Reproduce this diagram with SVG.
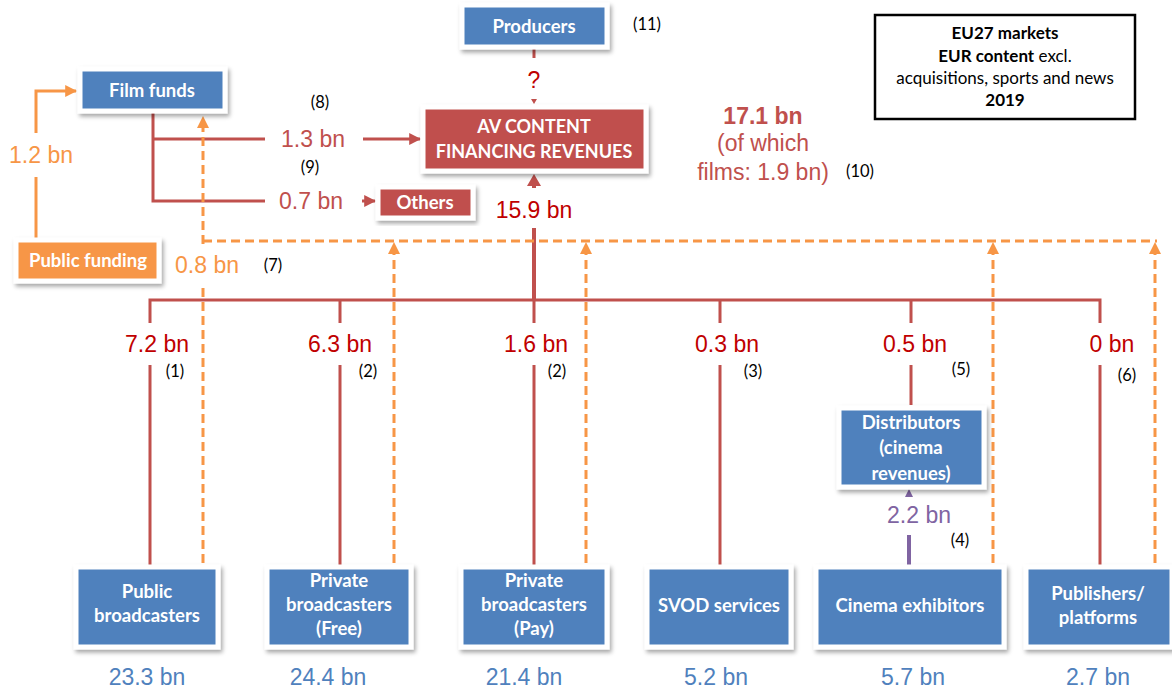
<svg xmlns="http://www.w3.org/2000/svg" width="1172" height="689" viewBox="0 0 1172 689">
<defs>
<filter id="sh" x="-10%" y="-10%" width="125%" height="135%">
<feDropShadow dx="2" dy="3" stdDeviation="2" flood-color="#000" flood-opacity="0.35"/>
</filter>
<marker id="ar" viewBox="0 0 10 10" refX="9" refY="5" markerWidth="4" markerHeight="4" orient="auto" markerUnits="strokeWidth">
<path d="M0,0 L10,5 L0,10 z" fill="#C0504D"/>
</marker>
<marker id="ao" viewBox="0 0 10 10" refX="9" refY="5" markerWidth="4" markerHeight="4" orient="auto" markerUnits="strokeWidth">
<path d="M0,0 L10,5 L0,10 z" fill="#F79646"/>
</marker>
</defs>
<style>
.blue{fill:#4F81BD;stroke:#fff;stroke-width:5;filter:url(#sh)}
.red{fill:#C0504D;stroke:#fff;stroke-width:5;filter:url(#sh)}
.orng{fill:#F79646;stroke:#fff;stroke-width:5;filter:url(#sh)}
.bt{font-family:Lato,"Open Sans",sans-serif;font-weight:bold;font-size:18.5px;fill:#fff;text-anchor:middle}
.bt2{font-size:18px}
.v{font-family:"Liberation Sans",Arial,sans-serif;font-size:23px;text-anchor:middle}
.dr{fill:#C00000}
.lr{fill:#C0504D}
.bl{fill:#4F81BD}
.or{fill:#F79646}
.pu{fill:#8064A2}
.n{font-family:Lato,"Open Sans",sans-serif;font-size:16.5px;fill:#000;text-anchor:middle}
.rl{fill:none;stroke:#C0504D;stroke-width:3}
.ol{fill:none;stroke:#F79646;stroke-width:3}
.od{fill:none;stroke:#F79646;stroke-width:3;stroke-dasharray:9 5}
.eu{font-family:Lato,"Open Sans",sans-serif;font-size:17px;fill:#000;text-anchor:middle}
</style>
<rect width="1172" height="689" fill="#fff"/>

<g id="connectors">
<path class="ol" d="M36,239 V177"/>
<path class="ol" d="M36,133 V91 H76" marker-end="url(#ao)"/>
<path class="rl" d="M153,111 V201 H265"/>
<path class="rl" d="M153,139 H265"/>
<path class="rl" d="M363,139 H420" marker-end="url(#ar)"/>
<path class="rl" d="M362,201 H375" marker-end="url(#ar)"/>
<path class="rl" d="M534,49 V58"/>
<path fill="#C0504D" d="M531,99 L537,99 L534,104 z"/>
<path fill="none" stroke="#C0504D" stroke-width="4" d="M534,300 V228"/>
<path fill="none" stroke="#C0504D" stroke-width="4" d="M534,188 V184"/>
<path fill="#C0504D" d="M527,186 L541,186 L534,174 z"/>
<path class="rl" d="M150,323 V300 H1100 V323"/>
<path class="rl" d="M340,300 V323 M534,300 V323 M720,300 V323 M911,300 V323"/>
<path class="rl" d="M150,365 V565 M340,365 V565 M534,365 V565 M720,365 V565 M911,365 V405 M1100,365 V565"/>
<path fill="none" stroke="#8064A2" stroke-width="4" d="M909,565 V535"/>
<path fill="#8064A2" d="M905,497 L913,497 L909,489 z"/>
<path class="od" d="M203,563 V287"/>
<path class="od" d="M203,244 V126"/>
<path fill="#F79646" d="M197,128 L209,128 L203,116 z"/>
<path class="od" d="M203,241 H1157"/>
<path class="od" d="M394,563 V252"/>
<path fill="#F79646" d="M388,254 L400,254 L394,242 z"/>
<path class="od" d="M586,563 V252"/>
<path fill="#F79646" d="M580,254 L592,254 L586,242 z"/>
<path class="od" d="M993,563 V252"/>
<path fill="#F79646" d="M987,254 L999,254 L993,242 z"/>
<path class="od" d="M1155,563 V252"/>
<path fill="#F79646" d="M1149,254 L1161,254 L1155,242 z"/>
</g>

<g id="producers">
<rect class="blue" x="462" y="5" width="145" height="42"/>
<text class="bt" x="534" y="33">Producers</text>
</g>
<g id="film-funds">
<rect class="blue" x="80" y="69" width="145" height="42"/>
<text class="bt" x="152" y="97">Film funds</text>
</g>
<g id="av-content">
<rect class="red" x="423" y="107" width="223" height="64"/>
<text class="bt bt2" x="534" y="133">AV CONTENT</text>
<text class="bt bt2" x="534" y="158">FINANCING REVENUES</text>
</g>
<g id="others">
<rect class="red" x="378" y="187" width="95" height="31"/>
<text class="bt" x="425" y="209">Others</text>
</g>
<g id="public-funding">
<rect class="orng" x="16" y="240" width="143" height="41"/>
<text class="bt" x="88" y="267">Public funding</text>
</g>
<g id="distributors">
<rect class="blue" x="839" y="408" width="145" height="79"/>
<text class="bt" x="911" y="429">Distributors</text>
<text class="bt" x="911" y="454">(cinema</text>
<text class="bt" x="911" y="480">revenues)</text>
</g>
<g id="public-broadcasters">
<rect class="blue" x="76" y="567" width="142" height="80"/>
<text class="bt" x="147" y="598">Public</text>
<text class="bt" x="147" y="622">broadcasters</text>
</g>
<g id="private-free">
<rect class="blue" x="267" y="567" width="144" height="80"/>
<text class="bt" x="339" y="587">Private</text>
<text class="bt" x="339" y="611">broadcasters</text>
<text class="bt" x="339" y="635">(Free)</text>
</g>
<g id="private-pay">
<rect class="blue" x="461" y="567" width="146" height="80"/>
<text class="bt" x="534" y="587">Private</text>
<text class="bt" x="534" y="611">broadcasters</text>
<text class="bt" x="534" y="635">(Pay)</text>
</g>
<g id="svod">
<rect class="blue" x="647" y="567" width="144" height="80"/>
<text class="bt" x="719" y="612">SVOD services</text>
</g>
<g id="cinema-exhibitors">
<rect class="blue" x="816" y="567" width="188" height="80"/>
<text class="bt" x="910" y="612">Cinema exhibitors</text>
</g>
<g id="publishers">
<rect class="blue" x="1026" y="567" width="146" height="80"/>
<text class="bt" x="1098" y="600">Publishers/</text>
<text class="bt" x="1098" y="624">platforms</text>
</g>
<g id="legend">
<rect x="875" y="15" width="260" height="104" fill="#fff" stroke="#000" stroke-width="2.5"/>
<text class="eu" x="1005" y="39" font-weight="bold">EU27 markets</text>
<text class="eu" x="1005" y="62"><tspan font-weight="bold">EUR content</tspan> excl.</text>
<text class="eu" x="1005" y="84">acquisitions, sports and news</text>
<text class="eu" x="1005" y="106" font-weight="bold">2019</text>
</g>

<g id="labels">
<text class="v or" x="41" y="163">1.2 bn</text>
<text class="v lr" x="313" y="147">1.3 bn</text>
<text class="v lr" x="311" y="209">0.7 bn</text>
<text class="v or" x="207" y="273">0.8 bn</text>
<text class="v dr" x="534" y="218">15.9 bn</text>
<text class="v dr" x="534" y="88">?</text>
<text class="v lr" x="763" y="124" font-weight="bold">17.1 bn</text>
<text class="v lr" x="763" y="151">(of which</text>
<text class="v lr" x="763" y="180">films: 1.9 bn)</text>
<text class="v dr" x="157" y="352">7.2 bn</text>
<text class="v dr" x="340" y="352">6.3 bn</text>
<text class="v dr" x="536" y="352">1.6 bn</text>
<text class="v dr" x="727" y="352">0.3 bn</text>
<text class="v dr" x="915" y="352">0.5 bn</text>
<text class="v dr" x="1112" y="352">0 bn</text>
<text class="v pu" x="919" y="523">2.2 bn</text>
<text class="v bl" x="147" y="685">23.3 bn</text>
<text class="v bl" x="328" y="685">24.4 bn</text>
<text class="v bl" x="524" y="685">21.4 bn</text>
<text class="v bl" x="716" y="685">5.2 bn</text>
<text class="v bl" x="913" y="685">5.7 bn</text>
<text class="v bl" x="1098" y="685">2.7 bn</text>
<text class="n" x="175" y="377">(1)</text>
<text class="n" x="368" y="377">(2)</text>
<text class="n" x="557" y="377">(2)</text>
<text class="n" x="753" y="377">(3)</text>
<text class="n" x="960" y="546">(4)</text>
<text class="n" x="961" y="375">(5)</text>
<text class="n" x="1127" y="381">(6)</text>
<text class="n" x="273" y="271">(7)</text>
<text class="n" x="320" y="108">(8)</text>
<text class="n" x="310" y="173">(9)</text>
<text class="n" x="860" y="177">(10)</text>
<text class="n" x="647" y="30">(11)</text>
</g>
</svg>
